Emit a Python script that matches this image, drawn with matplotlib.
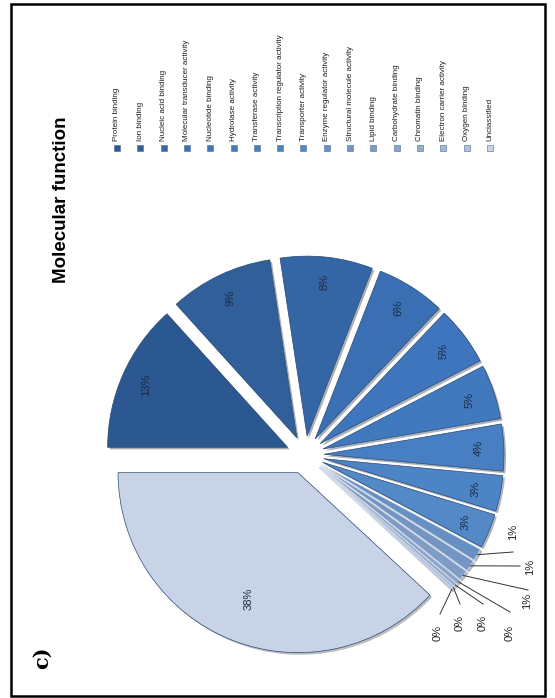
import numpy as np
import matplotlib
matplotlib.use("Agg")
import matplotlib.pyplot as plt
from matplotlib.patches import Rectangle
import matplotlib.patheffects as pe

plt.rcParams.update({
    "font.family": ["Liberation Sans", "DejaVu Sans"],
})

# GO molecular function categories and their share (%)
categories = [
    "Protein binding", "Ion binding", "Nucleic acid binding",
    "Molecular transducer activity", "Nucleotide binding", "Hydrolase activity",
    "Transferase activity", "Transcription regulator activity",
    "Transporter activity", "Enzyme regulator activity",
    "Structural molecule activity", "Lipid binding", "Carbohydrate binding",
    "Chromatin binding", "Electron carrier activity", "Oxygen binding",
    "Unclassified",
]
shares = [13.3, 9.3, 8.3, 6.2, 5.3, 4.9, 4.2, 3.2, 3.1,
          1.1, 1.0, 0.9, 0.4, 0.3, 0.2, 0.2, 38.1]
colors = ["#2b5891", "#305f9a", "#3466a6", "#3a6fb4", "#3e75bc", "#4179bf",
          "#487fc3", "#4d84c6", "#5489c8", "#6690c4", "#7295c3", "#7e9cc6",
          "#8ba4ca", "#97adce", "#a5b7d4", "#b3c2db", "#c9d3e8"]

W, H = 555, 698
fig = plt.figure(figsize=(W / 100, H / 100), dpi=100)
ax = fig.add_axes([0, 0, 1, 1])


def Y(y):
    # layout written top-down, axes run bottom-up
    return H - y


cx, cy, R = 305, Y(455), 180
wedges, _ = ax.pie(shares, colors=colors, startangle=180, counterclock=False,
                   radius=R, center=(cx, cy), explode=[19] * len(shares),
                   wedgeprops=dict(ec="#2a4a75", lw=0.5), frame=True)
for w, v in zip(wedges, shares):
    if v < 2:
        # thin slivers read better with light seams between them
        w.set_edgecolor("#d6deea")
    w.set_path_effects([pe.SimplePatchShadow(offset=(1.5, -1.5), alpha=0.35), pe.Normal()])
ax.set_xlim(0, W)
ax.set_ylim(0, H)
ax.set_aspect("equal")
ax.axis("off")

# outer frame
ax.add_patch(Rectangle((11, Y(696)), 534, 692, fill=False, ec="black", lw=1.8))


def point(w, frac):
    mid = np.deg2rad((w.theta1 + w.theta2) / 2)
    x0, y0 = w.center
    return x0 + frac * w.r * np.cos(mid), y0 + frac * w.r * np.sin(mid)


# labels inside the bigger wedges
for i, (w, v) in enumerate(zip(wedges, shares)):
    if v < 2:
        continue
    frac = 0.75 if categories[i] == "Unclassified" else 0.86
    x, y = point(w, frac)
    ax.text(x, y, f"{v:.0f}%", rotation=90, ha="center", va="center",
            fontsize=8, color="#1b2a40")

# small wedges get their labels outside on leader lines
small_layout = {
    9: ((513, 552), (513, 532)),
    10: ((520, 566), (530, 567)),
    11: ((528, 590), (527, 601)),
    12: ((510, 612), (510, 633)),
    13: ((483, 604), (483, 623)),
    14: ((460, 604), (460, 623)),
    15: ((440, 614), (438, 633)),
}
for i, (elbow, txt) in small_layout.items():
    w = wedges[i]
    x0, y0 = point(w, 1.0)
    ex, ey = elbow[0], Y(elbow[1])
    ax.plot([x0, ex], [y0, ey], color="#333333", lw=0.7)
    ax.text(txt[0], Y(txt[1]), f"{shares[i]:.0f}%", rotation=90, ha="center",
            va="center", fontsize=8, color="#222222")

# legend, turned on its side
lx0, dx = 117, 23.3
for i, (name, c) in enumerate(zip(categories, colors)):
    x = lx0 + i * dx
    ax.add_patch(Rectangle((x - 3, Y(151)), 6, 6, fc=c, ec="#4a6a96", lw=0.4))
    ax.text(x, Y(141), name, rotation=90, ha="center", va="bottom",
            fontsize=5.8, color="#1e1e1e")

ax.text(62, Y(200), "Molecular function", rotation=90, ha="center", va="center",
        fontsize=13.5, fontweight="bold", color="black")
ax.text(42, Y(658), "c)", rotation=90, ha="center", va="center",
        fontsize=15, fontweight="bold", family="DejaVu Serif", color="black")

fig.savefig("out.png", dpi=100)
